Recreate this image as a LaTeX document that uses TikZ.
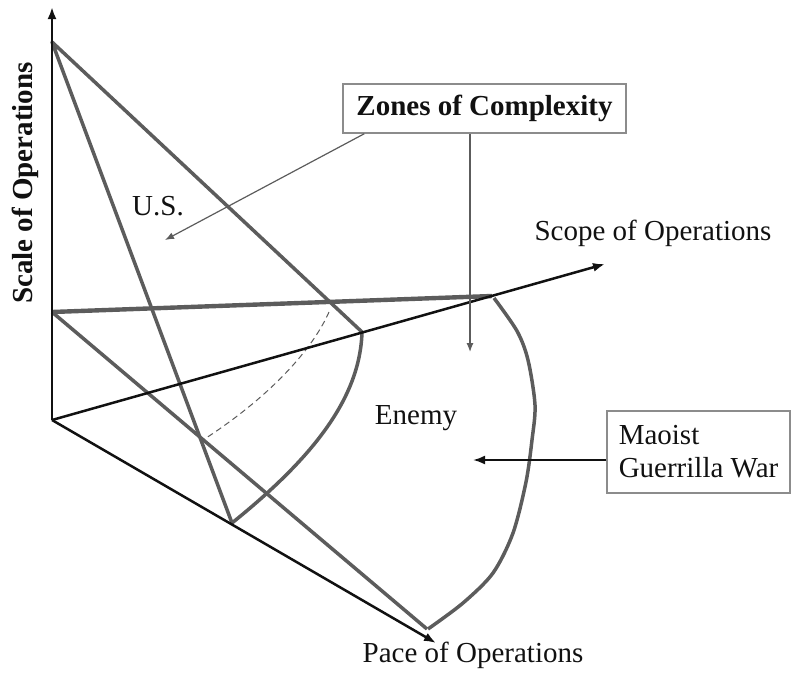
\documentclass[tikz,border=0pt]{standalone}
\usepackage{fontspec}
\setmainfont{Liberation Serif}
\usetikzlibrary{arrows.meta, positioning, calc}
\definecolor{zonegray}{HTML}{5C5C5C}
\definecolor{boxgray}{HTML}{8C8C8C}
\definecolor{inkblack}{HTML}{111111}

\begin{document}
\begin{tikzpicture}[
  x=0.5pt, y=-0.5pt,
  >={Latex[length=6pt, width=4.5pt]},
  axis/.style={->, line width=1.25pt, inkblack},
  zone/.style={line width=1.75pt, zonegray, line join=round},
  callout/.style={->, line width=0.6pt, zonegray,
    >={Latex[length=4.5pt, width=3.5pt]}},
  lbl/.style={font=\fontsize{14.5}{16.5}\selectfont, text=inkblack, inner sep=0pt},
  tagbox/.style={draw=boxgray, line width=0.75pt, fill=white, inner sep=0pt,
    font=\fontsize{14.5}{16.5}\selectfont, text=inkblack},
]

\useasboundingbox (0,0) rectangle (792,675);

% =============================================
% Axes corners
% =============================================
\coordinate (O) at (52,420);
\coordinate (scaletip) at (52,7);
\coordinate (scopetip) at (605,264);
\coordinate (pacetip) at (436,643);

% =============================================
% U.S. zone
% =============================================
\coordinate (usapex) at (52,42);
\coordinate (usright) at (362,332);
\coordinate (usbottom) at (232,523);

\draw[zone] (usapex) -- (usright)
  .. controls (360,400) and (310,460) .. (usbottom) -- cycle;

% =============================================
% Enemy zone
% =============================================
\coordinate (enleft) at (52,312);
\coordinate (entop) at (492,296);
\coordinate (enbottom) at (427,629);

\draw[zone, line width=2.2pt] (enleft) -- (entop);
\draw[zone] (enleft) -- (enbottom);
\draw[zone] plot[smooth, tension=0.5] coordinates {
  (494,298) (517,331) (528,360) (535,405) (532,440)
  (526,482) (513,533) (493,573) (463,603) (428,629)};

% hidden edge
\draw[zonegray, line width=0.5pt, dash pattern=on 3pt off 2pt]
  (329,312) .. controls (310,355) and (262,402) .. (203,440);

% Axes on top
\draw[axis] (O) -- (scaletip);
\draw[axis] (O) -- (scopetip);
\draw[axis] (O) -- (pacetip);

% =============================================
% Labels
% =============================================
\node[lbl, font=\fontsize{14.5}{16.5}\selectfont\bfseries, rotate=90]
  (scalelbl) at (25,183) {Scale of Operations};
\node[lbl] (scopelbl) at (653,233) {Scope of Operations};
\node[lbl] (pacelbl) at (473,655) {Pace of Operations};
\node[lbl] (uslbl) at (158,206) {U.S.};
\node[lbl] (enemylbl) at (416,418) {Enemy};

% =============================================
% Call-out boxes
% =============================================
\node[tagbox, font=\fontsize{14.5}{16.5}\selectfont\bfseries,
      minimum width=141.5pt, minimum height=24.5pt]
  (zones) at (484.5,108.5) {Zones of Complexity};

\node[tagbox, align=left, minimum width=91.5pt, minimum height=41pt]
  (maoist) at (698.5,452) {Maoist\\Guerrilla War};

\coordinate (ustarget) at (165,240);
\coordinate (enemytarget) at (470,352);
\coordinate (guerrillatarget) at (473,460);

\draw[callout] ([xshift=11pt]zones.south west) -- (ustarget);
\draw[callout] ([xshift=-7.25pt]zones.south) -- (enemytarget);
\draw[->, line width=1pt, inkblack] ([yshift=-4pt]maoist.west) -- (guerrillatarget);

\end{tikzpicture}
\end{document}
